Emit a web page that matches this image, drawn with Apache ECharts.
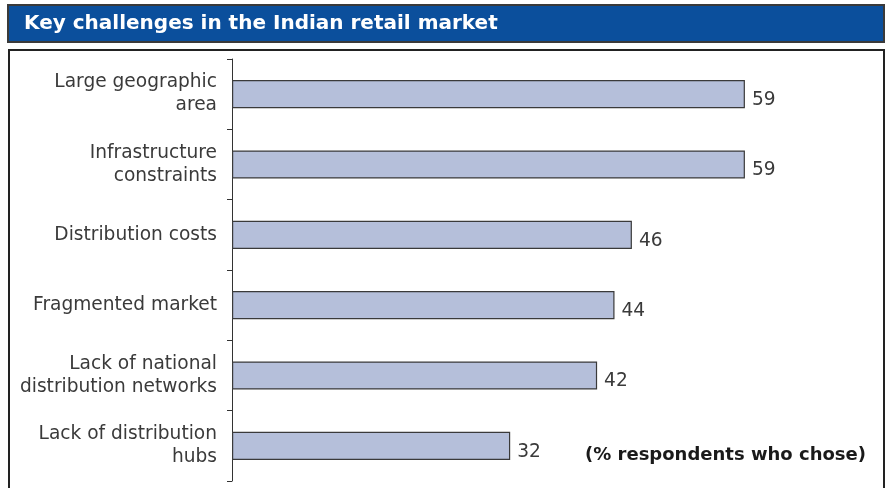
<!DOCTYPE html>
<html>
<head>
<meta charset="utf-8">
<script src="https://cdn.jsdelivr.net/npm/echarts@6/dist/echarts.min.js"></script>
<style>
  html, body { margin: 0; padding: 0; background: #fff; }
  #chart { width: 887px; height: 488px; }
</style>
</head>
<body>
<div id="chart"></div>
<script>
// Survey answers, top to bottom
const categories = [
  'Large geographic\narea',
  'Infrastructure\nconstraints',
  'Distribution costs',
  'Fragmented market',
  'Lack of national\ndistribution networks',
  'Lack of distribution\nhubs'
];
const shares = [59, 59, 46, 44, 42, 32];

const chart = echarts.init(document.getElementById('chart'));
const fontFamily = '"DejaVu Sans", sans-serif';

chart.setOption({
  animation: false,
  graphic: [
    {
      type: 'rect',
      shape: { x: 8, y: 5, width: 876, height: 37 },
      style: { fill: '#0b4f9c', stroke: '#3a3a3a', lineWidth: 2 },
      z: 0
    },
    {
      type: 'text',
      x: 24,
      y: 24,
      style: {
        text: 'Key challenges in the Indian retail market',
        fill: '#ffffff',
        font: 'bold 20px ' + fontFamily,
        verticalAlign: 'middle'
      },
      z: 1
    },
    {
      type: 'rect',
      shape: { x: 9, y: 50, width: 875, height: 450 },
      style: { fill: 'none', stroke: '#222', lineWidth: 2 },
      z: 0
    },
    {
      type: 'text',
      x: 866,
      y: 455,
      style: {
        text: '(% respondents who chose)',
        fill: '#1a1a1a',
        font: 'bold 18px ' + fontFamily,
        align: 'right',
        verticalAlign: 'middle'
      },
      z: 1
    }
  ],
  grid: { left: 232, top: 59, width: 652, height: 422 },
  xAxis: {
    type: 'value',
    min: 0,
    max: 75,
    show: false
  },
  yAxis: {
    type: 'category',
    inverse: true,
    data: categories,
    axisLine: { show: true, lineStyle: { color: '#333', width: 1 } },
    axisTick: { show: true, length: 5, lineStyle: { color: '#333' } },
    axisLabel: {
      color: '#3a3a3a',
      fontSize: 18.6,
      fontFamily: fontFamily,
      lineHeight: 23,
      margin: 15,
      align: 'right'
    }
  },
  series: [{
    type: 'bar',
    data: shares,
    barCategoryGap: '60%',
    itemStyle: { color: '#b5bfda', borderColor: '#3a3a3a', borderWidth: 1.2 },
    label: {
      show: true,
      position: 'right',
      distance: 7,
      offset: [0, 6],
      color: '#3a3a3a',
      fontSize: 18.6,
      fontFamily: fontFamily
    }
  }]
});
</script>
</body>
</html>
